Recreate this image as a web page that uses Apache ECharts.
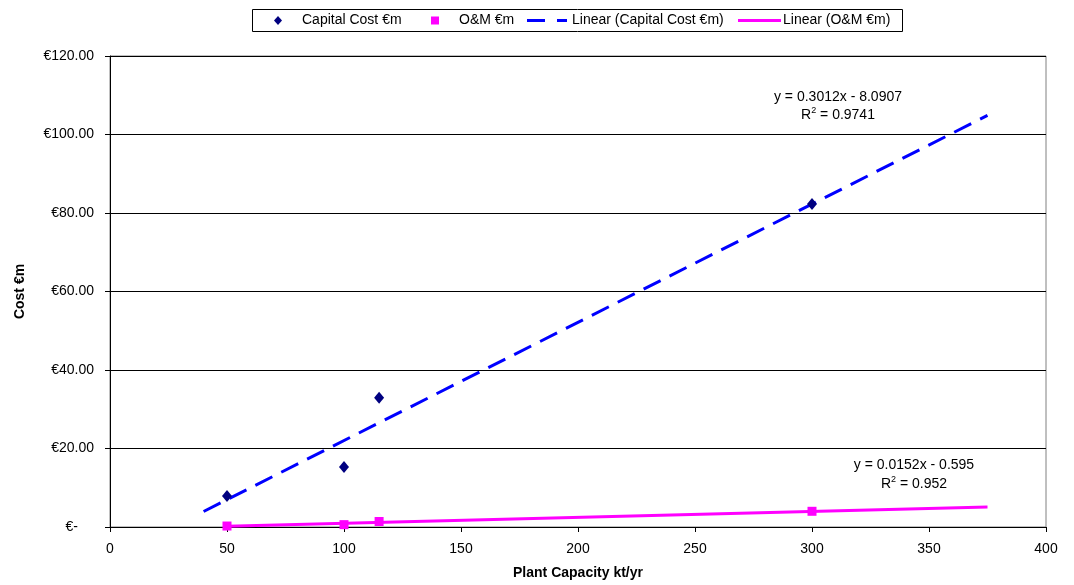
<!DOCTYPE html>
<html>
<head>
<meta charset="utf-8">
<script src="https://cdn.jsdelivr.net/npm/echarts@6/dist/echarts.min.js"></script>
<style>
  html, body { margin: 0; padding: 0; background: #fff; }
  #chart { width: 1074px; height: 585px; }
</style>
</head>
<body>
<div id="chart"></div>
<script>
// Plant capacity (kt/yr) and the two cost series (€m)
const capacity = [50, 100, 115, 300];
const capitalCost = [7.9, 15.3, 32.9, 82.3];
const omCost = [0.25, 0.6, 1.4, 4.0];

// Linear trendlines as fitted: slope, intercept, R², drawn x-range
const capitalFit = { slope: 0.3012, intercept: -8.0907, r2: '0.9741', from: 40, to: 375 };
const omFit = { slope: 0.0152, intercept: -0.595, r2: '0.952', from: 50, to: 375 };

// Axis ticks
const xTicks = { min: 0, max: 400, interval: 50 };
const yTicks = { min: 0, max: 120, interval: 20 };

// Series names (also used for the legend)
const names = {
  capital: 'Capital Cost €m',
  om: 'O&M €m',
  capitalTrend: 'Linear (Capital Cost €m)',
  omTrend: 'Linear (O&M €m)'
};

const FONT = '"Liberation Sans", Arial, sans-serif';
const FS = 14;
const NAVY = '#000080';
const MAGENTA = '#FF00FF';
const BLUE = '#0000FF';

function fitLine(fit) {
  return [fit.from, fit.to].map(x => [x, fit.slope * x + fit.intercept]);
}
function pairs(xs, ys) { return xs.map((x, i) => [x, ys[i]]); }
function eqText(fit) {
  const sign = fit.intercept < 0 ? ' - ' : ' + ';
  return 'y = ' + fit.slope + 'x' + sign + Math.abs(fit.intercept);
}

// Equation + R² annotation, centred on (cx, cy), second row dy below
function fitLabel(fit, cx, cy, dy) {
  return [
    {
      type: 'text', x: cx, y: cy, z: 10,
      style: {
        text: eqText(fit), fill: '#000', font: FS + 'px ' + FONT,
        textAlign: 'center', textVerticalAlign: 'middle'
      }
    },
    {
      type: 'text', x: cx, y: cy + dy, z: 10,
      style: {
        text: '{b|R}{s|2}{b| = ' + fit.r2 + '}',
        textAlign: 'center', textVerticalAlign: 'middle',
        rich: {
          b: { fontSize: FS, fontFamily: FONT, fill: '#000', color: '#000', verticalAlign: 'bottom', lineHeight: 16 },
          s: { fontSize: 9, fontFamily: FONT, fill: '#000', color: '#000', verticalAlign: 'top', lineHeight: 16 }
        }
      }
    }
  ];
}

// Boxed legend across the top
function legendGraphic() {
  const cy = 20.5;
  const txt = (x, t) => ({
    type: 'text', x: x, y: cy,
    style: { text: t, fill: '#000', font: FS + 'px ' + FONT, textVerticalAlign: 'middle' }
  });
  return [
    { type: 'rect', shape: { x: 252.5, y: 9.5, width: 650, height: 22 },
      style: { fill: '#fff', stroke: '#000', lineWidth: 1 } },
    { type: 'polygon', shape: { points: [[278, cy - 4.5], [282, cy], [278, cy + 4.5], [274, cy]] },
      style: { fill: NAVY } },
    txt(302, names.capital),
    { type: 'rect', shape: { x: 431, y: cy - 4, width: 8, height: 8 }, style: { fill: MAGENTA } },
    txt(459, names.om),
    { type: 'line', shape: { x1: 527, y1: cy, x2: 567, y2: cy },
      style: { stroke: BLUE, lineWidth: 3, lineDash: [18, 12] } },
    txt(572, names.capitalTrend),
    { type: 'line', shape: { x1: 738, y1: cy, x2: 781, y2: cy },
      style: { stroke: MAGENTA, lineWidth: 3 } },
    txt(783, names.omTrend)
  ];
}

const chart = echarts.init(document.getElementById('chart'), null, { renderer: 'canvas' });

const axisText = { color: '#000', fontSize: FS, fontFamily: FONT };
const nameText = { fontFamily: FONT, fontSize: FS, fontWeight: 'bold', color: '#000' };

const option = {
  backgroundColor: '#fff',
  animation: false,
  textStyle: { fontFamily: FONT },
  grid: {
    left: 110, right: 28, top: 56, bottom: 58,
    show: true, borderColor: '#808080', borderWidth: 1, backgroundColor: '#fff'
  },
  xAxis: {
    type: 'value',
    min: xTicks.min, max: xTicks.max, interval: xTicks.interval,
    name: 'Plant Capacity kt/yr',
    nameLocation: 'middle', nameGap: 39,
    nameTextStyle: nameText,
    axisLine: { lineStyle: { color: '#000', width: 1 } },
    axisTick: { show: true, inside: false, length: 5, lineStyle: { color: '#000' } },
    axisLabel: Object.assign({ margin: 15 }, axisText),
    splitLine: { show: false }
  },
  yAxis: {
    type: 'value',
    min: yTicks.min, max: yTicks.max, interval: yTicks.interval,
    name: 'Cost €m',
    nameLocation: 'middle', nameGap: 83,
    nameTextStyle: nameText,
    axisLine: { show: true, lineStyle: { color: '#000', width: 1 } },
    axisTick: { show: true, inside: false, length: 5, lineStyle: { color: '#000' } },
    axisLabel: Object.assign({
      margin: 16,
      // accounting style: zero shows as a dash, set back from the decimals
      formatter: v => v === 0 ? '{z|€-}' : '€' + v.toFixed(2),
      rich: {
        z: { fontSize: FS, fontFamily: FONT, color: '#000', padding: [0, 16, 0, 0] }
      }
    }, axisText),
    splitLine: { show: true, lineStyle: { color: '#000', width: 1 } }
  },
  series: [
    {
      name: names.capitalTrend,
      type: 'line',
      data: fitLine(capitalFit),
      symbol: 'none',
      lineStyle: { color: BLUE, width: 3, type: [19, 10] },
      itemStyle: { color: BLUE },
      z: 2
    },
    {
      name: names.omTrend,
      type: 'line',
      data: fitLine(omFit),
      symbol: 'none',
      lineStyle: { color: MAGENTA, width: 3 },
      itemStyle: { color: MAGENTA },
      z: 2
    },
    {
      name: names.capital,
      type: 'scatter',
      data: pairs(capacity, capitalCost),
      symbol: 'diamond',
      symbolSize: [10, 12],
      itemStyle: { color: NAVY, opacity: 1 },
      z: 3
    },
    {
      name: names.om,
      type: 'scatter',
      data: pairs(capacity, omCost),
      symbol: 'rect',
      symbolSize: 9,
      itemStyle: { color: MAGENTA, opacity: 1 },
      z: 3
    }
  ],
  graphic: [].concat(
    legendGraphic(),
    fitLabel(capitalFit, 838, 97, 17),
    fitLabel(omFit, 914, 465, 18)
  )
};

chart.setOption(option);
</script>
</body>
</html>
